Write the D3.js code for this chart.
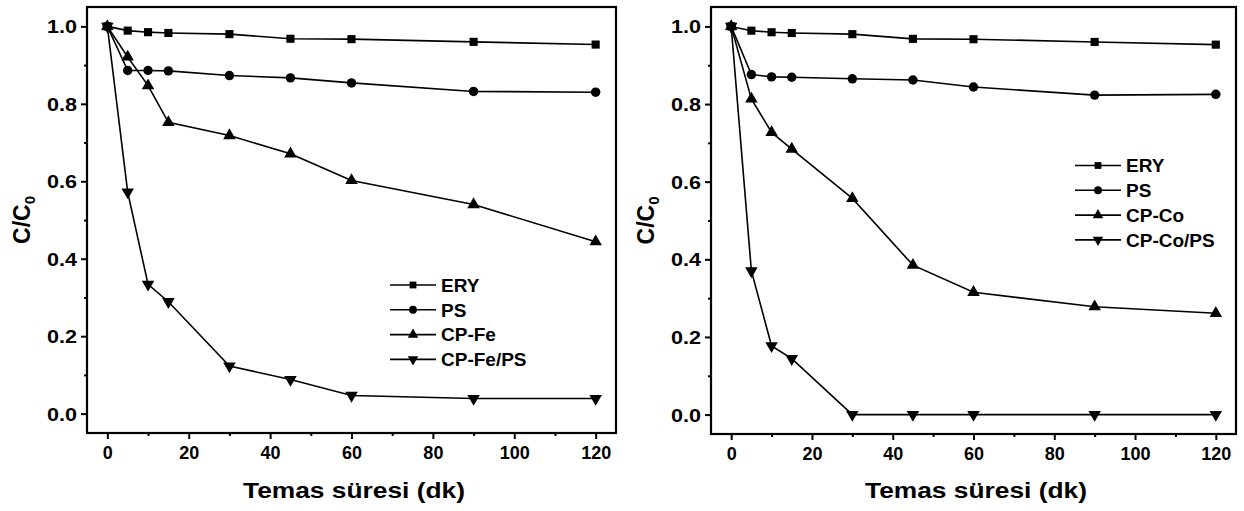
<!DOCTYPE html>
<html>
<head>
<meta charset="utf-8">
<script src="https://cdn.jsdelivr.net/npm/d3@7/dist/d3.min.js"></script>
<style>
  body { margin: 0; background: #fff; }
  text { font-family: "Liberation Sans", Arial, sans-serif; font-weight: bold; fill: #000; }
</style>
</head>
<body>
<svg id="chart" width="1244" height="511"></svg>
<script>
// time points (dk)
var times = [0, 5, 10, 15, 30, 45, 60, 90, 120];

// left panel (Fe)
var eryFe   = [1.0, 0.989, 0.985, 0.983, 0.980, 0.968, 0.967, 0.960, 0.953];
var psFe    = [1.0, 0.886, 0.886, 0.885, 0.873, 0.867, 0.854, 0.832, 0.830];
var cpFe    = [1.0, 0.921, 0.847, 0.752, 0.718, 0.671, 0.602, 0.540, 0.444];
var cpFePs  = [1.0, 0.572, 0.334, 0.289, 0.123, 0.088, 0.047, 0.039, 0.039];

// right panel (Co)
var eryCo   = [1.0, 0.989, 0.985, 0.983, 0.980, 0.968, 0.967, 0.960, 0.953];
var psCo    = [1.0, 0.876, 0.870, 0.869, 0.865, 0.862, 0.844, 0.823, 0.825];
var cpCo    = [1.0, 0.813, 0.727, 0.684, 0.557, 0.385, 0.315, 0.278, 0.261];
var cpCoPs  = [1.0, 0.370, 0.177, 0.144, 0.0, 0.0, 0.0, 0.0, 0.0];

var namesFe = ['ERY', 'PS', 'CP-Fe', 'CP-Fe/PS'];
var namesCo = ['ERY', 'PS', 'CP-Co', 'CP-Co/PS'];

var xTicks = [0, 20, 40, 60, 80, 100, 120];
var xMinor = [10, 30, 50, 70, 90, 110];
var yTicks = [0.0, 0.2, 0.4, 0.6, 0.8, 1.0];
var yMinor = [0.1, 0.3, 0.5, 0.7, 0.9];

var symbols = [d3.symbolSquare, d3.symbolCircle, d3.symbolTriangle, d3.symbolTriangle];
var symSize = [66, 70, 68, 68];

var svg = d3.select('#chart');

var panels = [
  {left: 87, top: 7, width: 529, height: 426, names: namesFe,
   series: [eryFe, psFe, cpFe, cpFePs], legend: {x: 390, y: 285},
   ylabelX: 30, titleX: 354},
  {left: 711, top: 7, width: 525, height: 427, names: namesCo,
   series: [eryCo, psCo, cpCo, cpCoPs], legend: {x: 1075, y: 165.5},
   ylabelX: 654, titleX: 976}
];

panels.forEach(function (p) {
  var x = d3.scaleLinear().domain([-5, 125]).range([p.left, p.left + p.width]);
  var y = d3.scaleLinear().domain([-0.05, 1.05]).range([p.top + p.height, p.top]);

  var g = svg.append('g');

  // axes
  var xAxis = g.append('g')
    .attr('transform', 'translate(0,' + (p.top + p.height) + ')')
    .call(d3.axisBottom(x).tickValues(xTicks).tickSize(6).tickPadding(6)
      .tickFormat(d3.format('d')));
  xAxis.select('.domain').remove();
  xAxis.selectAll('text').style('font-size', '18px').attr('dy', '0.75em');
  xAxis.selectAll('line').attr('stroke-width', 2);

  var xAxisMinor = g.append('g')
    .attr('transform', 'translate(0,' + (p.top + p.height) + ')')
    .call(d3.axisBottom(x).tickValues(xMinor).tickSize(3).tickFormat(''));
  xAxisMinor.select('.domain').remove();
  xAxisMinor.selectAll('line').attr('stroke-width', 2);

  var yAxis = g.append('g')
    .attr('transform', 'translate(' + p.left + ',0)')
    .call(d3.axisLeft(y).tickValues(yTicks).tickSize(6).tickPadding(4)
      .tickFormat(d3.format('.1f')));
  yAxis.select('.domain').remove();
  yAxis.selectAll('text').style('font-size', '18px').attr('dy', '0.36em')
    .attr('textLength', 30).attr('lengthAdjust', 'spacingAndGlyphs');
  yAxis.selectAll('line').attr('stroke-width', 2);

  var yAxisMinor = g.append('g')
    .attr('transform', 'translate(' + p.left + ',0)')
    .call(d3.axisLeft(y).tickValues(yMinor).tickSize(3).tickFormat(''));
  yAxisMinor.select('.domain').remove();
  yAxisMinor.selectAll('line').attr('stroke-width', 2);

  // frame
  g.append('rect')
    .attr('x', p.left).attr('y', p.top)
    .attr('width', p.width).attr('height', p.height)
    .attr('fill', 'none').attr('stroke', '#000').attr('stroke-width', 2.2);

  // lines + markers
  var line = d3.line()
    .x(function (d, i) { return x(times[i]); })
    .y(function (d) { return y(d); });

  p.series.forEach(function (s, k) {
    g.append('path')
      .datum(s)
      .attr('d', line)
      .attr('fill', 'none')
      .attr('stroke', '#000')
      .attr('stroke-width', 1.6);

    var sym = d3.symbol().type(symbols[k]).size(symSize[k]);
    g.selectAll('.m' + k)
      .data(s)
      .enter().append('path')
      .attr('class', 'm' + k)
      .attr('d', sym)
      .attr('fill', '#000')
      .attr('transform', function (d, i) {
        return 'translate(' + x(times[i]) + ',' + y(d) + ')' + (k === 3 ? ' rotate(180)' : '');
      });
  });

  // legend
  var leg = g.append('g').attr('transform', 'translate(' + p.legend.x + ',' + p.legend.y + ')');
  p.names.forEach(function (n, k) {
    var row = leg.append('g').attr('transform', 'translate(0,' + (k * 24.8) + ')');
    row.append('line').attr('x1', 0).attr('x2', 46).attr('y1', 0).attr('y2', 0)
      .attr('stroke', '#000').attr('stroke-width', 1.6);
    row.append('path')
      .attr('d', d3.symbol().type(symbols[k]).size(symSize[k] * 0.7))
      .attr('fill', '#000')
      .attr('transform', 'translate(23,0)' + (k === 3 ? ' rotate(180)' : ''));
    row.append('text').attr('x', 51).attr('y', 0).attr('dy', '0.36em')
      .style('font-size', '19px').text(n);
  });

  // axis titles
  g.append('text')
    .attr('x', p.titleX).attr('y', 498)
    .attr('text-anchor', 'middle')
    .style('font-size', '22px')
    .attr('textLength', 222).attr('lengthAdjust', 'spacingAndGlyphs')
    .text('Temas süresi (dk)');

  var yl = g.append('text')
    .attr('transform', 'translate(' + p.ylabelX + ',' + (p.top + p.height / 2) + ') rotate(-90)')
    .attr('text-anchor', 'middle')
    .style('font-size', '23px');
  yl.append('tspan').text('C/C');
  yl.append('tspan').attr('dy', 5).style('font-size', '15px').text('0');
});
</script>
</body>
</html>
